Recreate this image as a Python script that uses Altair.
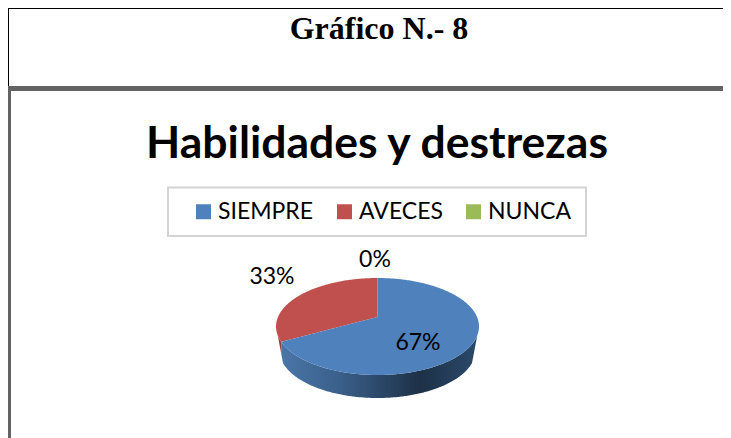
import numpy as np
import pandas as pd
import altair as alt

categories = ["SIEMPRE", "AVECES", "NUNCA"]
shares = [67, 33, 0]
colors = ["#4F81BD", "#C0504D", "#9BBB59"]
frame_title = "Gráfico N.- 8"
chart_title = "Habilidades y destrezas"

W, H, OFF = 715, 430, 8
CX, CY, RX, RY = 377.5 - OFF, 326.5 - OFF, 101.5, 48.5
BCY, BRX, BRY = 350.5 - OFF, 98.0, 47.5
TAPER = 94.5
C = -9.5 / RY  # perspective shift of the pie's centre


def project(theta):
    u, v = np.sin(theta), -np.cos(theta)
    k = 1 + C * v
    return CX + RX * np.sqrt(1 - C**2) * u / k, CY + (RY * v + RY * C) / k


def upper(x):
    return CY - RY * np.sqrt(np.clip(1 - ((x - CX) / RX) ** 2, 0, 1))


def lower(x):
    return CY + RY * np.sqrt(np.clip(1 - ((x - CX) / RX) ** 2, 0, 1))


def base(x):
    dx = abs(x - CX)
    b = lambda d: BCY + BRY * np.sqrt(max(1 - (d / BRX) ** 2, 0))
    if dx <= TAPER:
        return b(dx)
    return CY + (b(TAPER) - CY) * (RX - dx) / (RX - TAPER)


xb, yb = project(2 * np.pi * shares[0] / sum(shares))
ax, ay = CX, CY + RY * C


def edge(x):
    return ay + (yb - ay) * (x - ax) / (xb - ax)


xs = np.unique(np.concatenate([
    CX + RX * np.sin(np.linspace(-np.pi / 2, np.pi / 2, 241)), [xb, ax, ax + 1e-3]
]))

rows = []
for x in xs:
    if x <= ax:
        y2 = max(min(edge(x), lower(x)), upper(x)) if x >= xb else lower(x)
        rows.append(dict(x=x, y=upper(x), y2=y2, cat=categories[1]))
    if x >= xb:
        if x <= ax:
            rows.append(dict(x=x, y=min(edge(x), lower(x)), y2=lower(x), cat=categories[0]))
        else:
            rows.append(dict(x=x, y=upper(x), y2=lower(x), cat=categories[0]))
top = pd.DataFrame(rows)

side = pd.DataFrame([dict(x=x, y=lower(x), y2=max(base(x), lower(x))) for x in xs])
side_blue = side[side.x >= xb]
side_red = side[side.x <= xb]

X = alt.X("x:Q", scale=alt.Scale(domain=[0, W]), axis=None)
Y = alt.Y("y:Q", scale=alt.Scale(domain=[0, H], reverse=True), axis=None, stack=None)
Y2 = alt.Y2("y2:Q")

blue_grad = alt.Gradient(
    gradient="linear", x1=0, x2=1, y1=0, y2=0,
    stops=[
        alt.GradientStop(offset=0, color="#4A76A8"),
        alt.GradientStop(offset=0.3, color="#3A5F8A"),
        alt.GradientStop(offset=0.7, color="#1D3147"),
        alt.GradientStop(offset=1, color="#2B4A6C"),
    ],
)

side_b = alt.Chart(side_blue).mark_area(color=blue_grad).encode(x=X, y=Y, y2=Y2)
side_r = alt.Chart(side_red).mark_area(color="#9C3F3C").encode(x=X, y=Y, y2=Y2)
surface = alt.Chart(top).mark_area().encode(
    x=X, y=Y, y2=Y2,
    color=alt.Color(
        "cat:N",
        scale=alt.Scale(domain=categories, range=colors),
        sort=categories,
        legend=alt.Legend(
            title=None, orient="none", direction="horizontal", columns=3,
            legendX=192 - OFF, legendY=200 - OFF,
            symbolType="square", symbolSize=225, symbolStrokeWidth=0,
            labelFont="Lato", labelFontSize=23, labelColor="#000000", labelOffset=3,
            columnPadding=19, padding=0,
        ),
    ),
)


def text(label, x, y, font, size, weight="normal", color="#000000"):
    return alt.Chart(pd.DataFrame({"t": [label]})).mark_text(
        font=font, fontSize=size, fontWeight=weight, color=color,
        align="center", baseline="middle",
    ).encode(x=alt.value(x - OFF), y=alt.value(y - OFF), text="t:N")


def hrule(y, x1, x2, color, w):
    return alt.Chart(pd.DataFrame({"a": [0]})).mark_rule(color=color, strokeWidth=w).encode(
        x=alt.value(x1), x2=alt.value(x2), y=alt.value(y))


def vrule(x, y1, y2, color, w):
    return alt.Chart(pd.DataFrame({"a": [0]})).mark_rule(color=color, strokeWidth=w).encode(
        y=alt.value(y1), y2=alt.value(y2), x=alt.value(x))


legend_box = alt.Chart(pd.DataFrame({"a": [0]})).mark_rect(
    fill="#FFFFFF", stroke="#D4D4D4", strokeWidth=2
).encode(
    x=alt.value(168 - OFF), x2=alt.value(586 - OFF),
    y=alt.value(187.5 - OFF), y2=alt.value(236 - OFF),
)

chart = alt.layer(
    hrule(0.5, 0, W, "#000000", 1),
    vrule(0.5, 0, 80, "#000000", 1),
    hrule(80.5, 0, W, "#636363", 5),
    vrule(1.5, 78, H, "#636363", 3),
    text(frame_title, 379, 29, "Liberation Serif", 32, "bold"),
    text(chart_title, 377, 145, "Lato", 44.5, "bold"),
    legend_box,
    side_r, side_b, surface,
    text(f"{shares[0]}%", 418, 343, "Lato", 23),
    text(f"{shares[1]}%", 272, 277, "Lato", 23),
    text(f"{shares[2]}%", 375, 260, "Lato", 23),
).properties(
    width=W, height=H, padding=0, autosize=alt.AutoSizeParams(type="none"),
    background="#FFFFFF",
).configure_view(stroke=None)

chart.save("out.html", embed_options={"renderer": "svg", "actions": False})
